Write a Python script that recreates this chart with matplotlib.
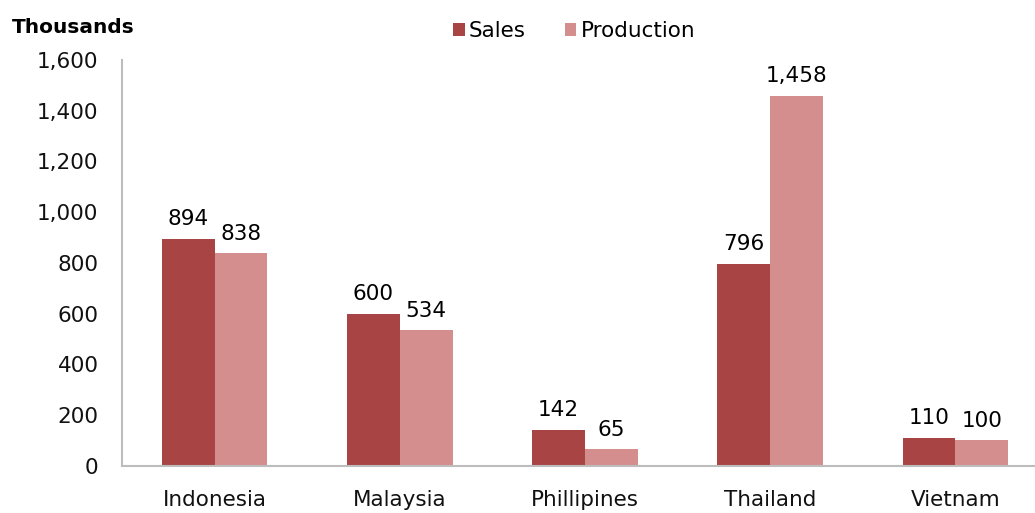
import numpy as np
import matplotlib.pyplot as plt

plt.rcParams['font.family'] = ['DejaVu Sans']

countries = ['Indonesia', 'Malaysia', 'Phillipines', 'Thailand', 'Vietnam']
sales = [894, 600, 142, 796, 110]
production = [838, 534, 65, 1458, 100]

sales_color = '#A84444'
prod_color = '#D48E8E'

x = np.arange(len(countries))
width = 0.285

fig = plt.figure(figsize=(10.35, 5.13), dpi=100)
ax = fig.add_axes([0.118, 0.092, 0.882, 0.791])

b1 = ax.bar(x - width / 2, sales, width, color=sales_color, label='Sales')
b2 = ax.bar(x + width / 2, production, width, color=prod_color, label='Production')

ax.set_xlim(-0.5, 4.43)
ax.set_ylim(0, 1600)
ax.set_yticks(np.arange(0, 1601, 200))
ax.yaxis.set_major_formatter(plt.FuncFormatter(lambda v, p: f'{int(v):,}'))
ax.set_xticks(x)
ax.set_xticklabels(countries)
ax.tick_params(axis='both', length=0, labelsize=15.5, colors='#111111')
ax.tick_params(axis='x', pad=17.5)
ax.tick_params(axis='y', pad=17)

for s in ['top', 'right']:
    ax.spines[s].set_visible(False)
for s in ['left', 'bottom']:
    ax.spines[s].set_color('#bdbdbd')
    ax.spines[s].set_linewidth(1.5)

ax.bar_label(b1, labels=[f'{v:,}' for v in sales], padding=7, fontsize=15.5)
ax.bar_label(b2, labels=[f'{v:,}' for v in production], padding=7, fontsize=15.5)

fig.text(0.011, 0.947, 'Thousands', fontsize=14.5, fontweight='bold', va='center')
ax.legend(loc='center', bbox_to_anchor=(0.495, 1.072),
          ncol=2, frameon=False, fontsize=15.5, handlelength=0.55,
          handleheight=0.55, handletextpad=0.2, columnspacing=1.8)

fig.savefig('out.png', dpi=100)
